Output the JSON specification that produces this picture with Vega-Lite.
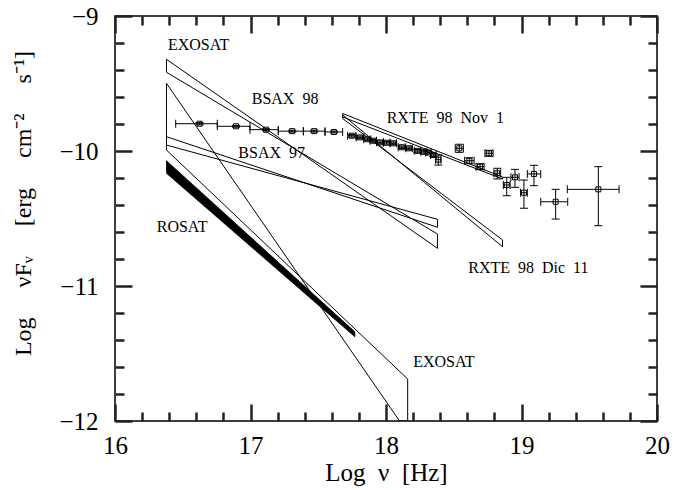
{
  "$schema": "https://vega.github.io/schema/vega-lite/v6.json",
  "width": 542,
  "height": 405,
  "autosize": {"type": "none"},
  "padding": {"left": 115, "top": 16, "right": 17, "bottom": 69},
  "background": "white",
  "config": {
    "view": {"stroke": "black", "strokeWidth": 1.5},
    "axis": {"grid": false, "domain": false, "ticks": true, "tickColor": "#222222", "tickWidth": 2.5, "labelColor": "black", "titleColor": "black", "labelFont": "Liberation Serif", "titleFont": "Liberation Serif", "titleFontWeight": "normal", "labelFlush": false, "labelOverlap": false, "format": "d"}
  },
  "datasets": {
    "bands": [
      {"band": "EXO1", "i": 0, "x": 16.38, "y": -9.321},
      {"band": "EXO1", "i": 1, "x": 18.38, "y": -10.721},
      {"band": "EXO1", "i": 2, "x": 18.38, "y": -10.615},
      {"band": "EXO1", "i": 3, "x": 16.38, "y": -9.417},
      {"band": "EXO1", "i": 4, "x": 16.38, "y": -9.321},
      {"band": "BSAX97", "i": 0, "x": 16.38, "y": -9.894},
      {"band": "BSAX97", "i": 1, "x": 18.38, "y": -10.565},
      {"band": "BSAX97", "i": 2, "x": 18.38, "y": -10.506},
      {"band": "BSAX97", "i": 3, "x": 16.38, "y": -9.956},
      {"band": "BSAX97", "i": 4, "x": 16.38, "y": -9.894},
      {"band": "EXO2", "i": 0, "x": 16.38, "y": -9.499},
      {"band": "EXO2", "i": 1, "x": 18.10, "y": -12.0},
      {"band": "EXO2", "i": 2, "x": 18.16, "y": -12.0},
      {"band": "EXO2", "i": 3, "x": 18.16, "y": -11.689},
      {"band": "EXO2", "i": 4, "x": 16.38, "y": -9.993},
      {"band": "EXO2", "i": 5, "x": 16.38, "y": -9.499},
      {"band": "Nov1", "i": 0, "x": 17.68, "y": -9.722},
      {"band": "Nov1", "i": 1, "x": 18.86, "y": -10.193},
      {"band": "Nov1", "i": 2, "x": 18.86, "y": -10.207},
      {"band": "Nov1", "i": 3, "x": 17.68, "y": -9.748},
      {"band": "Nov1", "i": 4, "x": 17.68, "y": -9.722},
      {"band": "Dic11", "i": 0, "x": 17.68, "y": -9.733},
      {"band": "Dic11", "i": 1, "x": 18.86, "y": -10.709},
      {"band": "Dic11", "i": 2, "x": 18.86, "y": -10.659},
      {"band": "Dic11", "i": 3, "x": 17.68, "y": -9.759},
      {"band": "Dic11", "i": 4, "x": 17.68, "y": -9.733}
    ],
    "rosat": [
      {"x": 16.38, "ytop": -10.072, "ybot": -10.165},
      {"x": 17.77, "ytop": -11.339, "ybot": -11.376}
    ],
    "pts": [
      {"x": 16.624, "xlo": 16.448, "xhi": 16.755, "y": -9.798, "ylo": -9.79, "yhi": -9.806},
      {"x": 16.893, "xlo": 16.755, "xhi": 16.996, "y": -9.817, "ylo": -9.81, "yhi": -9.824},
      {"x": 17.114, "xlo": 16.996, "xhi": 17.205, "y": -9.842, "ylo": -9.835, "yhi": -9.849},
      {"x": 17.308, "xlo": 17.205, "xhi": 17.390, "y": -9.853, "ylo": -9.846, "yhi": -9.86},
      {"x": 17.470, "xlo": 17.390, "xhi": 17.550, "y": -9.853, "ylo": -9.846, "yhi": -9.86},
      {"x": 17.616, "xlo": 17.550, "xhi": 17.680, "y": -9.859, "ylo": -9.852, "yhi": -9.866},
      {"x": 17.747, "xlo": 17.717, "xhi": 17.777, "y": -9.887, "ylo": -9.877, "yhi": -9.897},
      {"x": 17.808, "xlo": 17.780, "xhi": 17.836, "y": -9.899, "ylo": -9.889, "yhi": -9.909},
      {"x": 17.862, "xlo": 17.836, "xhi": 17.888, "y": -9.913, "ylo": -9.903, "yhi": -9.923},
      {"x": 17.906, "xlo": 17.882, "xhi": 17.930, "y": -9.924, "ylo": -9.914, "yhi": -9.934},
      {"x": 17.956, "xlo": 17.930, "xhi": 17.982, "y": -9.936, "ylo": -9.926, "yhi": -9.946},
      {"x": 18.005, "xlo": 17.980, "xhi": 18.030, "y": -9.939, "ylo": -9.929, "yhi": -9.949},
      {"x": 18.054, "xlo": 18.030, "xhi": 18.078, "y": -9.943, "ylo": -9.933, "yhi": -9.953},
      {"x": 18.116, "xlo": 18.090, "xhi": 18.142, "y": -9.972, "ylo": -9.962, "yhi": -9.982},
      {"x": 18.170, "xlo": 18.146, "xhi": 18.194, "y": -9.980, "ylo": -9.970, "yhi": -9.990},
      {"x": 18.232, "xlo": 18.208, "xhi": 18.256, "y": -9.999, "ylo": -9.989, "yhi": -10.009},
      {"x": 18.280, "xlo": 18.258, "xhi": 18.302, "y": -10.006, "ylo": -9.996, "yhi": -10.016},
      {"x": 18.312, "xlo": 18.292, "xhi": 18.332, "y": -10.011, "ylo": -10.001, "yhi": -10.021},
      {"x": 18.349, "xlo": 18.329, "xhi": 18.369, "y": -10.030, "ylo": -10.018, "yhi": -10.042},
      {"x": 18.386, "xlo": 18.366, "xhi": 18.406, "y": -10.064, "ylo": -10.030, "yhi": -10.104},
      {"x": 18.541, "xlo": 18.511, "xhi": 18.571, "y": -9.980, "ylo": -9.950, "yhi": -10.010},
      {"x": 18.615, "xlo": 18.580, "xhi": 18.650, "y": -10.072, "ylo": -10.050, "yhi": -10.094},
      {"x": 18.694, "xlo": 18.664, "xhi": 18.724, "y": -10.116, "ylo": -10.094, "yhi": -10.138},
      {"x": 18.760, "xlo": 18.730, "xhi": 18.790, "y": -10.017, "ylo": -9.995, "yhi": -10.039},
      {"x": 18.821, "xlo": 18.796, "xhi": 18.846, "y": -10.165, "ylo": -10.128, "yhi": -10.207},
      {"x": 18.891, "xlo": 18.866, "xhi": 18.916, "y": -10.252, "ylo": -10.195, "yhi": -10.331},
      {"x": 18.952, "xlo": 18.922, "xhi": 18.982, "y": -10.195, "ylo": -10.136, "yhi": -10.269},
      {"x": 19.018, "xlo": 18.993, "xhi": 19.043, "y": -10.309, "ylo": -10.215, "yhi": -10.424},
      {"x": 19.092, "xlo": 19.043, "xhi": 19.142, "y": -10.170, "ylo": -10.106, "yhi": -10.257},
      {"x": 19.252, "xlo": 19.142, "xhi": 19.341, "y": -10.376, "ylo": -10.284, "yhi": -10.504},
      {"x": 19.567, "xlo": 19.338, "xhi": 19.720, "y": -10.284, "ylo": -10.116, "yhi": -10.553}
    ],
    "labels": [
      {"text": "EXOSAT", "x": 16.391, "y": -9.215},
      {"text": "BSAX\u00a0\u00a098", "x": 17.009, "y": -9.616},
      {"text": "BSAX\u00a0\u00a097", "x": 16.910, "y": -10.013},
      {"text": "ROSAT", "x": 16.308, "y": -10.565},
      {"text": "RXTE\u00a0\u00a098\u00a0\u00a0Nov\u00a0\u00a01", "x": 18.005, "y": -9.752},
      {"text": "RXTE\u00a0\u00a098\u00a0\u00a0Dic\u00a0\u00a011", "x": 18.607, "y": -10.863},
      {"text": "EXOSAT", "x": 18.201, "y": -11.563}
    ]
  },
  "layer": [
    {
      "data": {"name": "bands"},
      "mark": {"type": "line", "color": "black", "strokeWidth": 1, "clip": true},
      "encoding": {
        "x": {"field": "x", "type": "quantitative", "scale": {"domain": [16, 20], "nice": false, "zero": false},
          "axis": {"orient": "bottom", "values": [16, 17, 18, 19, 20], "tickSize": -17,
            "labelFontSize": 25, "labelPadding": 29,
            "title": "Log\u00a0\u00a0ν\u00a0\u00a0[Hz]", "titleFontSize": 25, "titleY": 59, "titleBaseline": "alphabetic"}},
        "y": {"field": "y", "type": "quantitative", "scale": {"domain": [-12, -9], "nice": false, "zero": false},
          "axis": {"orient": "left", "values": [-12, -11, -10, -9], "tickSize": -17,
            "labelFontSize": 25, "labelPadding": 34,
            "title": "Log\u00a0\u00a0\u00a0\u00a0\u00a0νFᵥ\u00a0\u00a0\u00a0\u00a0\u00a0[erg\u00a0\u00a0\u00a0\u00a0\u00a0cm⁻²\u00a0\u00a0\u00a0\u00a0\u00a0s⁻¹]", "titleFontSize": 24, "titleX": -92, "titleY": 187, "titleBaseline": "middle", "titleAngle": -90}},
        "detail": {"field": "band", "type": "nominal"},
        "order": {"field": "i", "type": "quantitative"}
      }
    },
    {
      "data": {"name": "rosat"},
      "mark": {"type": "area", "color": "black", "stroke": "black", "strokeWidth": 0.8},
      "encoding": {
        "x": {"field": "x", "type": "quantitative",
          "axis": {"orient": "bottom", "values": [16.2,16.4,16.6,16.8,17.2,17.4,17.6,17.8,18.2,18.4,18.6,18.8,19.2,19.4,19.6,19.8], "tickSize": -9, "labels": false, "title": null}},
        "y": {"field": "ytop", "type": "quantitative",
          "axis": {"orient": "left", "values": [-11.8,-11.6,-11.4,-11.2,-10.8,-10.6,-10.4,-10.2,-9.8,-9.6,-9.4,-9.2], "tickSize": -9, "labels": false, "title": null}},
        "y2": {"field": "ybot"}
      }
    },
    {
      "data": {"name": "pts"},
      "mark": {"type": "errorbar", "ticks": {"size": 8, "thickness": 1, "color": "black", "opacity": 1}, "rule": {"color": "black", "strokeWidth": 1}},
      "encoding": {
        "x": {"field": "xlo", "type": "quantitative", "axis": null},
        "x2": {"field": "xhi"},
        "y": {"field": "y", "type": "quantitative", "axis": null}
      }
    },
    {
      "data": {"name": "pts"},
      "mark": {"type": "errorbar", "ticks": {"size": 8, "thickness": 1, "color": "black", "opacity": 1}, "rule": {"color": "black", "strokeWidth": 1}},
      "encoding": {
        "y": {"field": "ylo", "type": "quantitative", "axis": null},
        "y2": {"field": "yhi"},
        "x": {"field": "x", "type": "quantitative", "axis": null}
      }
    },
    {
      "data": {"name": "pts"},
      "mark": {"type": "point", "shape": "square", "size": 25, "filled": false, "stroke": "black", "strokeWidth": 1, "opacity": 1},
      "encoding": {
        "x": {"field": "x", "type": "quantitative",
          "axis": {"orient": "top", "values": [16, 17, 18, 19, 20], "tickSize": -17, "labels": false, "title": null}},
        "y": {"field": "y", "type": "quantitative",
          "axis": {"orient": "right", "values": [-12, -11, -10, -9], "tickSize": -17, "labels": false, "title": null}}
      }
    },
    {
      "data": {"name": "labels"},
      "mark": {"type": "text", "align": "left", "baseline": "middle", "font": "Liberation Serif", "fontSize": 16, "color": "black"},
      "encoding": {
        "x": {"field": "x", "type": "quantitative",
          "axis": {"orient": "top", "values": [16.2,16.4,16.6,16.8,17.2,17.4,17.6,17.8,18.2,18.4,18.6,18.8,19.2,19.4,19.6,19.8], "tickSize": -9, "labels": false, "title": null}},
        "y": {"field": "y", "type": "quantitative",
          "axis": {"orient": "right", "values": [-11.8,-11.6,-11.4,-11.2,-10.8,-10.6,-10.4,-10.2,-9.8,-9.6,-9.4,-9.2], "tickSize": -9, "labels": false, "title": null}},
        "text": {"field": "text"}
      }
    }
  ],
  "resolve": {"axis": {"x": "independent", "y": "independent"}}
}
